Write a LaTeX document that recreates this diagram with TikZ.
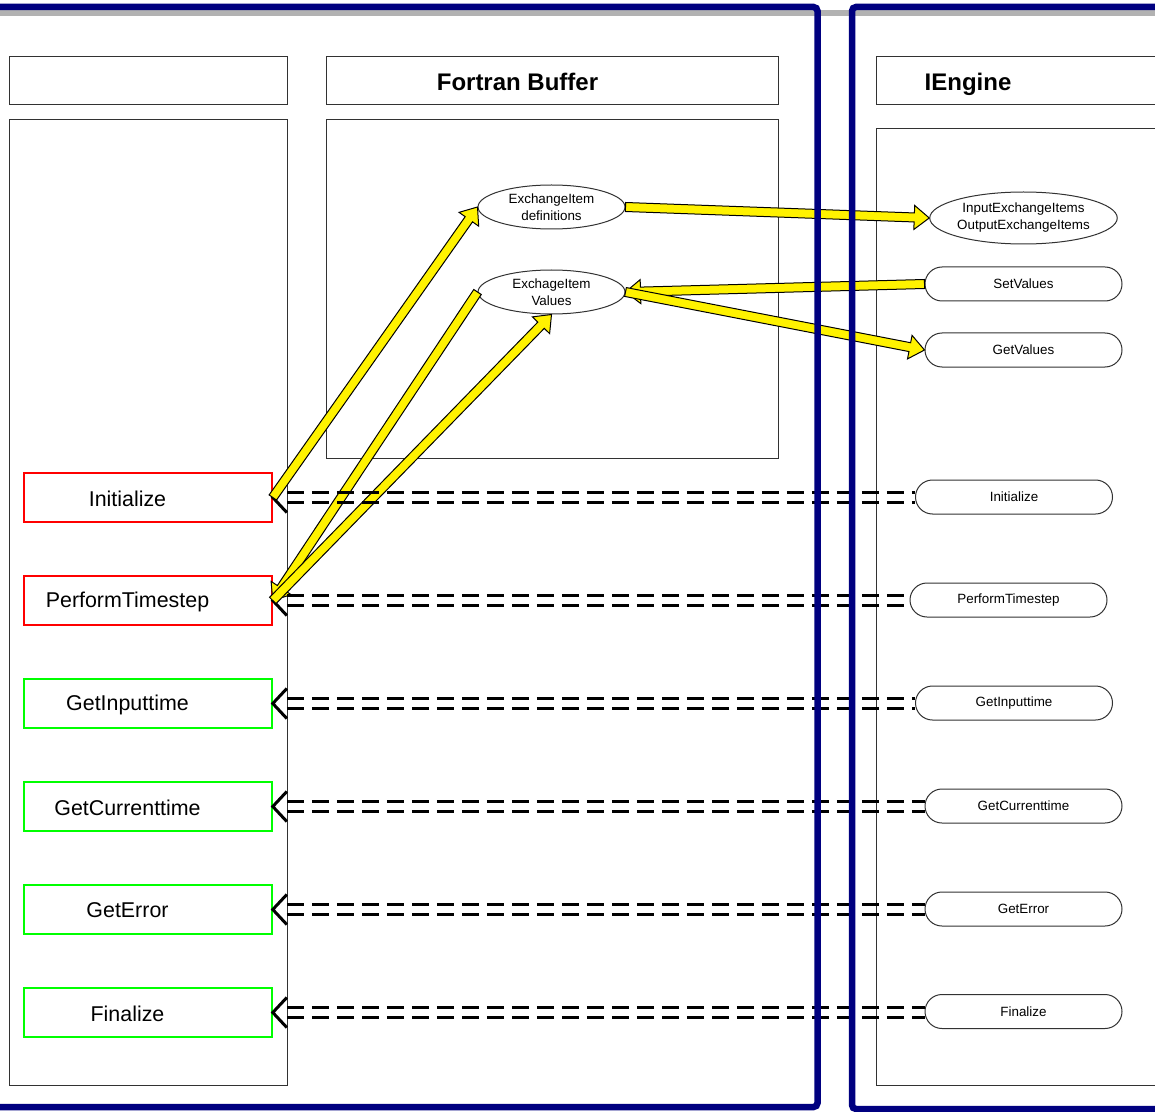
\documentclass[tikz,border=0pt]{standalone}
\usepackage{fontspec}
\setmainfont{Liberation Sans}
\usetikzlibrary{calc,shapes.geometric}

\definecolor{panelnavy}{RGB}{0,0,128}
\definecolor{shadowgray}{RGB}{178,178,178}
\definecolor{boxgreen}{RGB}{0,255,0}
\definecolor{framegray}{RGB}{50,50,50}

\tikzset{
  frame/.style={draw=framegray, line width=0.5pt, inner sep=0pt},
  callbox/.style={draw=red, line width=0.8pt, minimum width=124pt, minimum height=24.5pt, inner sep=0pt},
  okbox/.style={callbox, draw=boxgreen},
  bigtext/.style={font=\fontsize{10.7}{12}\selectfont},
  headtext/.style={font=\fontsize{12}{14}\bfseries\selectfont},
  smalltext/.style={font=\fontsize{6.7}{8.5}\selectfont},
  pill/.style={draw=framegray, line width=0.5pt, rounded corners=8.5pt, minimum width=98.5pt,
    minimum height=17pt, inner sep=0pt, smalltext},
  oval/.style={ellipse, draw=framegray, line width=0.5pt, minimum width=73.5pt, minimum height=22pt,
    inner sep=0pt, align=center, smalltext},
  yarrow/.style={fill=yellow, draw=black, line width=0.5pt, line join=miter},
  chev/.style={line width=1.5pt},
  dline/.style={line width=1.5pt, dash pattern=on 8.5pt off 4pt},
  panel/.style={draw=panelnavy, line width=3.25pt, rounded corners=2pt}
}

% thick yellow block arrow with a black outline, from #1 to #2
\newcommand\fatarrow[2]{%
  \coordinate (fa-a) at (#1);
  \coordinate (fa-b) at (#2);
  \coordinate (fa-h) at ($(fa-b)!7.5pt!(fa-a)$);
  \filldraw[yarrow] ($(fa-a)!2.25pt!90:(fa-b)$) -- ($(fa-h)!2.25pt!90:(fa-b)$)
    -- ($(fa-h)!6pt!90:(fa-b)$) -- (fa-b) -- ($(fa-h)!6pt!-90:(fa-b)$)
    -- ($(fa-h)!2.25pt!-90:(fa-b)$) -- ($(fa-a)!2.25pt!-90:(fa-b)$) -- cycle;}

% open chevron at the east side of a call box
\newcommand\chevron[1]{%
  \draw[chev] ($(#1.east)+(7pt,7.5pt)$) -- (#1.east) -- ($(#1.east)+(7pt,-7.5pt)$);}

% two parallel dashed lines from a call box to an engine method
\newcommand\dashpair[2]{%
  \draw[dline] ($(#1.east)+(7pt,2.4pt)$) -- ($(#1.east -| #2.west)+(0,2.4pt)$);
  \draw[dline] ($(#1.east)+(7pt,-2.4pt)$) -- ($(#1.east -| #2.west)+(0,-2.4pt)$);}

\begin{document}
\begin{tikzpicture}[x=0.5pt, y=-0.5pt]
  \clip (0,0) rectangle (1155,1112);
  \fill[white] (0,0) rectangle (1155,1112);

  % shadow under the top frame line
  \draw[shadowgray, line width=3pt] (0,13) -- (1155,13);

  % column headers and bodies
  \node[frame, minimum width=139pt, minimum height=24pt] (hLeft) at (148,81) {};
  \node[frame, minimum width=139pt, minimum height=482.5pt] (bLeft) at (148,602.5) {};
  \node[frame, minimum width=226pt, minimum height=24pt,
        label={[headtext, xshift=-17.25pt, yshift=-0.5pt]center:Fortran Buffer}] (hFort) at (552,81) {};
  \node[frame, minimum width=226pt, minimum height=169pt] (bFort) at (552,289) {};
  \node[frame, minimum width=152pt, minimum height=24pt,
        label={[headtext, xshift=-30pt, yshift=-1.5pt]center:IEngine}] (hEng) at (1028,81) {};
  \node[frame, minimum width=152pt, minimum height=478pt] (bEng) at (1028,607) {};

  % calls on the left
  \node[callbox, label={[bigtext, xshift=-10.25pt, yshift=-0.5pt]center:Initialize}] (lInit) at (148,497.5) {};
  \node[callbox, label={[bigtext, xshift=-10.25pt, yshift=-0.5pt]center:PerformTimestep}] (lPerf) at (148,600.5) {};
  \node[okbox, label={[bigtext, xshift=-10.25pt, yshift=-0.5pt]center:GetInputtime}] (lInp) at (148,703.5) {};
  \node[okbox, label={[bigtext, xshift=-10.25pt, yshift=-0.5pt]center:GetCurrenttime}] (lCur) at (148,806.5) {};
  \node[okbox, label={[bigtext, xshift=-10.25pt, yshift=-0.5pt]center:GetError}] (lErr) at (148,909.5) {};
  \node[okbox, label={[bigtext, xshift=-10.25pt, yshift=-0.5pt]center:Finalize}] (lFin) at (148,1012.5) {};

  % buffer items
  \node[oval] (xDef) at (551.5,207) {ExchangeItem\\definitions};
  \node[oval] (xVal) at (551.5,292) {ExchageItem\\Values};

  % engine methods
  \node[oval, minimum width=91.5pt, minimum height=26pt] (eItems) at (1023.5,218)
        {InputExchangeItems\\OutputExchangeItems};
  \node[pill] (eSet) at (1023.5,284) {SetValues};
  \node[pill] (eGet) at (1023.5,350) {GetValues};
  \node[pill] (eInit) at (1014,497) {Initialize};
  \node[pill] (ePerf) at (1008.5,600) {PerformTimestep};
  \node[pill] (eInp) at (1014,703) {GetInputtime};
  \node[pill] (eCur) at (1023.5,806) {GetCurrenttime};
  \node[pill] (eErr) at (1023.5,909) {GetError};
  \node[pill] (eFin) at (1023.5,1011.5) {Finalize};

  % arrow heads of the call-back connectors
  \chevron{lInit}
  \chevron{lPerf}
  \chevron{lInp}
  \chevron{lCur}
  \chevron{lErr}
  \chevron{lFin}

  % data flow
  \fatarrow{lInit.east}{xDef.west}
  \fatarrow{xDef.east}{eItems.west}
  \fatarrow{eSet.west}{xVal.east}
  \fatarrow{xVal.east}{eGet.west}
  \fatarrow{xVal.west}{lPerf.east}
  \fatarrow{lPerf.east}{xVal.south}

  % call-back connectors
  \dashpair{lInit}{eInit}
  \dashpair{lPerf}{ePerf}
  \dashpair{lInp}{eInp}
  \dashpair{lCur}{eCur}
  \dashpair{lErr}{eErr}
  \dashpair{lFin}{eFin}

  % component frames
  \draw[panel] (-20,7) -- (817.5,7) -- (817.5,1107) -- (-20,1107);
  \draw[panel] (1180,7) -- (852,7) -- (852,1109) -- (1180,1109);
\end{tikzpicture}
\end{document}
